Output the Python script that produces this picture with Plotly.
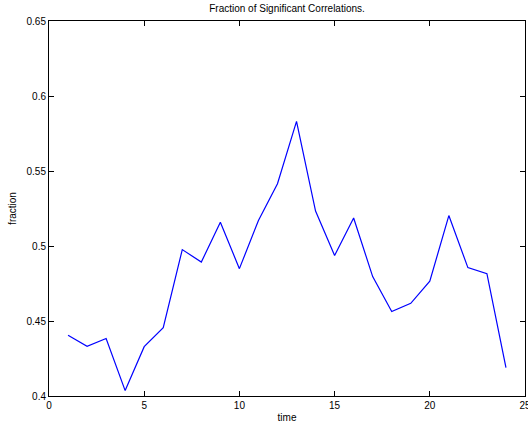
import plotly.graph_objects as go

time = list(range(1, 25))
fraction = [0.4405, 0.4331, 0.4383, 0.4036, 0.4329, 0.4456, 0.4976, 0.4893,
            0.5158, 0.4849, 0.5170, 0.5415, 0.5831, 0.5233, 0.4936, 0.5187,
            0.4796, 0.4563, 0.4618, 0.4765, 0.5203, 0.4856, 0.4816, 0.4189]

x_ticks = [0, 5, 10, 15, 20, 25]
y_ticks = [0.4, 0.45, 0.5, 0.55, 0.6, 0.65]
y_tick_text = ["0.4", "0.45", "0.5", "0.55", "0.6", "0.65"]

fig = go.Figure()
fig.add_trace(go.Scatter(x=time, y=fraction, mode="lines",
                         line=dict(color="#0000ff", width=1.2)))

font = dict(family="Liberation Sans, Arial, sans-serif", size=10, color="#000000")

fig.update_layout(
    width=528, height=424,
    margin=dict(l=48.5, r=3, t=20.5, b=28.3),
    paper_bgcolor="white", plot_bgcolor="white",
    showlegend=False,
    font=font,
    title=dict(text="Fraction of Significant Correlations.", x=0.5, xref="paper",
               y=1 - 8 / 424, yanchor="middle", xanchor="center",
               font=dict(size=10), automargin=False),
)
fig.update_xaxes(range=[0, 25], tickvals=x_ticks, ticks="inside", ticklen=5,
                 tickcolor="black", showgrid=False, zeroline=False,
                 showline=True, linecolor="black", linewidth=1, mirror="ticks",
                 ticklabeloverflow="allow", automargin=False,
                 title=dict(text="time", standoff=3, font=dict(size=10)))
fig.update_yaxes(range=[0.4, 0.65], tickvals=y_ticks, ticktext=y_tick_text,
                 ticks="inside", ticklen=5, tickcolor="black", showgrid=False,
                 zeroline=False, showline=True, linecolor="black", linewidth=1,
                 mirror="ticks", automargin=False,
                 title=dict(text="fraction", standoff=8, font=dict(size=10)))

fig.write_html("out.html", config={"displayModeBar": False},
               post_script="document.body.style.margin='0';document.body.style.overflow='hidden';")
